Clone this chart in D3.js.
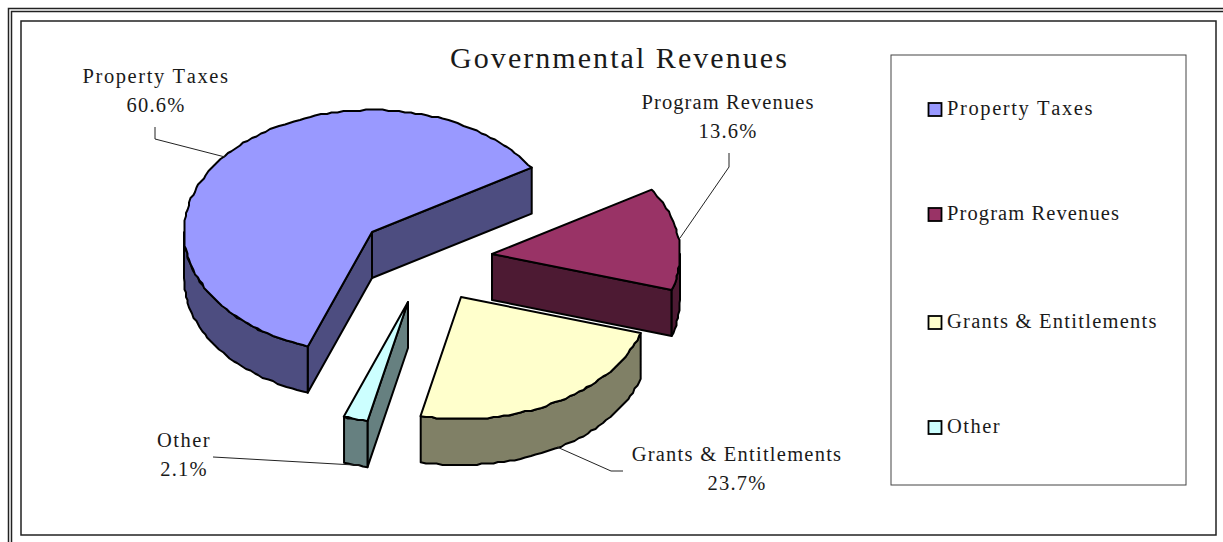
<!DOCTYPE html>
<html>
<head>
<meta charset="utf-8">
<title>Governmental Revenues</title>
<script src="https://cdn.jsdelivr.net/npm/d3@7"></script>
<style>
  html, body { margin: 0; padding: 0; background: #fff; overflow: hidden; }
  svg { display: block; }
  text { font-family: "Liberation Serif", serif; fill: #1a1a1a; font-kerning: none; }
</style>
</head>
<body>
<svg id="chart"></svg>
<script>
const title = "Governmental Revenues";
const categories = ["Property Taxes", "Program Revenues", "Grants & Entitlements", "Other"];
const values = [60.6, 13.6, 23.7, 2.1];
const topColors = ["#9999ff", "#993366", "#ffffcc", "#ccffff"];
const sideColors = ["#4d4d80", "#4d1a33", "#808066", "#668080"];

// where each exploded slice sits, the pie is tilted so everything is an ellipse
const apexes = [[372, 232], [492, 254], [461, 297], [408, 302]];
const rx = 188, ry = 122, depth = 46;
const firstAngle = (200 * Math.PI) / 180;

// label text position and leader line for each slice
const labelPos = [[156, 83], [728, 109], [737, 461], [184, 447]];
const labelSpacing = [1.6, 1.1, 1.25, 1.5];
const leaders = [
  [[155, 127], [155, 139], [225, 157]],
  [[729, 153], [729, 167], [680, 238]],
  [[557, 447], [611, 471], [623, 471]],
  [[213, 457], [354, 465], [360, 465]],
];
const legendRows = [109, 214, 322, 427];

const width = 1223, height = 542;
const svg = d3.select("#chart").attr("width", width).attr("height", height);

// frames, the two outer ones run off the right and bottom of the page
const frames = [
  { x: 8.5, y: 8.5, w: 1240, h: 560 },
  { x: 11.5, y: 11.5, w: 1240, h: 560 },
  { x: 21, y: 21, w: 1195, h: 514 },
];
svg.selectAll("rect.frame").data(frames).join("rect")
  .attr("class", "frame")
  .attr("x", (d) => d.x).attr("y", (d) => d.y)
  .attr("width", (d) => d.w).attr("height", (d) => d.h)
  .attr("fill", "none").attr("stroke", "#222").attr("stroke-width", 1.5);

svg.append("text").attr("x", 619.5).attr("y", 67.5)
  .attr("text-anchor", "middle")
  .style("font-size", "30px").style("letter-spacing", "2.05px")
  .text(title);

const pie = d3.pie().sort(null).value((d) => d)
  .startAngle(firstAngle).endAngle(firstAngle + 2 * Math.PI);
const slices = pie(values);

const sx = d3.scaleLinear().domain([-1, 1]).range([-rx, rx]);
const sy = d3.scaleLinear().domain([-1, 1]).range([-ry, ry]);
const line = d3.line();

// point on the rim for angle a, measured clockwise from 12 o'clock
const rimPoint = (a, c, dz) => [c[0] + sx(Math.sin(a)), c[1] + sy(-Math.cos(a)) + dz];

// the source picture has a slightly scalloped rim: coarse samples snapped to a grid
const GRID = 1.5, STEP = 0.03;
const rough = (p) => [Math.round(p[0] / GRID) * GRID, Math.round(p[1] / GRID) * GRID];

const rimPoints = (a0, a1, c, dz) => {
  const n = Math.max(1, Math.ceil((a1 - a0) / STEP));
  const pts = [];
  for (let i = 0; i <= n; i++) {
    const a = a0 + ((a1 - a0) * i) / n;
    const p = rimPoint(a, c, dz);
    pts.push(i === 0 || i === n ? p : rough(p));
  }
  return pts;
};

const g = svg.append("g").attr("stroke", "#000").attr("stroke-width", 2).attr("stroke-linejoin", "round");

slices.forEach((d, i) => {
  const c = apexes[i];
  const slice = g.append("g");

  // cut faces, only the ones turned towards the viewer
  [[d.startAngle, d.startAngle - Math.PI / 2], [d.endAngle, d.endAngle + Math.PI / 2]].forEach(([a, n]) => {
    if (Math.cos(n) < 0) {
      slice.append("path")
        .attr("fill", sideColors[i])
        .attr("d", line([c, rimPoint(a, c, 0), rimPoint(a, c, depth), [c[0], c[1] + depth]]) + "Z");
    }
  });

  // outer wall, front half of the rim only
  const step = 0.002;
  let a0 = null, a1 = null;
  for (let a = d.startAngle; a <= d.endAngle; a += step) {
    if (Math.cos(a) < 0) {
      if (a0 === null) a0 = a;
      a1 = a;
    }
  }
  if (a0 !== null) {
    const top = rimPoints(a0, a1, c, 0);
    const bottom = rimPoints(a0, a1, c, depth).reverse();
    slice.append("path").attr("fill", sideColors[i]).attr("d", line(top.concat(bottom)) + "Z");
  }

  // top face
  slice.append("path")
    .attr("fill", topColors[i])
    .attr("d", line([c].concat(rimPoints(d.startAngle, d.endAngle, c, 0))) + "Z");
});

// leader lines
svg.selectAll("path.leader").data(leaders).join("path")
  .attr("class", "leader")
  .attr("fill", "none").attr("stroke", "#222").attr("stroke-width", 1)
  .attr("d", (d) => line(d));

// data labels
categories.forEach((name, i) => {
  const t = svg.append("text").attr("text-anchor", "middle")
    .style("font-size", "20.5px");
  t.append("tspan").attr("x", labelPos[i][0]).attr("y", labelPos[i][1])
    .style("letter-spacing", labelSpacing[i] + "px").text(name);
  t.append("tspan").attr("x", labelPos[i][0]).attr("y", labelPos[i][1] + 29)
    .style("letter-spacing", "1.2px").text(d3.format(".1f")(values[i]) + "%");
});

// legend
svg.append("rect").attr("x", 891).attr("y", 55).attr("width", 295).attr("height", 430)
  .attr("fill", "#fff").attr("stroke", "#444").attr("stroke-width", 1);

const legend = svg.selectAll("g.legend").data(categories).join("g")
  .attr("class", "legend")
  .attr("transform", (d, i) => `translate(0,${legendRows[i]})`);
legend.append("rect").attr("x", 928.5).attr("y", -6).attr("width", 13).attr("height", 13)
  .attr("fill", (d, i) => topColors[i]).attr("stroke", "#000").attr("stroke-width", 1.8);
legend.append("text").attr("x", 947).attr("y", 6)
  .style("font-size", "20.5px").style("letter-spacing", (d, i) => labelSpacing[i] + "px")
  .text((d) => d);
</script>
</body>
</html>
